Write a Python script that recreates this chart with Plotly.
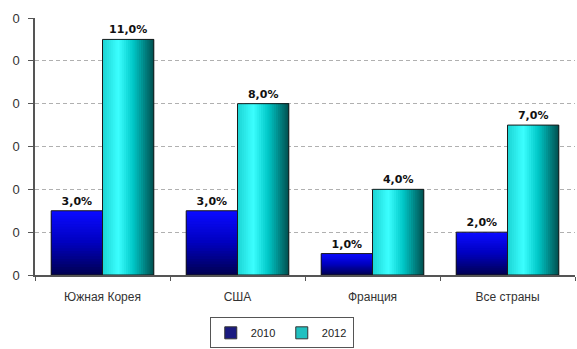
import plotly.graph_objects as go

categories = ["Южная Корея", "США", "Франция", "Все страны"]
values_2010 = [3.0, 3.0, 1.0, 2.0]
values_2012 = [11.0, 8.0, 4.0, 7.0]
series_names = ["2010", "2012"]
y_tickvals = [0, 2, 4, 6, 8, 10, 12]
y_ticktext = ["0"] * len(y_tickvals)


def lerp_color(stops, t):
    for i in range(len(stops) - 1):
        t0, c0 = stops[i]
        t1, c1 = stops[i + 1]
        if t0 <= t <= t1:
            f = (t - t0) / (t1 - t0) if t1 > t0 else 0
            return "rgb(%d,%d,%d)" % tuple(round(c0[j] + (c1[j] - c0[j]) * f) for j in range(3))
    return "rgb(%d,%d,%d)" % stops[-1][1]


BW = 0.38
N = 24
fig = go.Figure()

# 2010: vertical gradient (bright blue top -> navy bottom)
stops_2010 = [(0.0, (10, 10, 255)), (0.5, (0, 0, 190)), (1.0, (0, 0, 85))]
for k in range(N):
    frac = 1 - k / N
    fig.add_trace(go.Bar(
        x=categories, y=[v * frac for v in values_2010],
        width=[BW] * 4, offset=[-BW] * 4,
        marker=dict(color=lerp_color(stops_2010, k / (N - 1)), line=dict(width=0)),
        showlegend=False, hoverinfo="skip"))

# 2012: horizontal gradient (cyan left -> dark teal right)
stops_2012 = [(0.0, (30, 215, 215)), (0.3, (60, 255, 255)), (0.6, (0, 200, 200)), (1.0, (0, 85, 85))]
for k in range(N):
    step = BW / N
    fig.add_trace(go.Bar(
        x=categories, y=values_2012,
        width=[BW - k * step] * 4, offset=[k * step] * 4,
        marker=dict(color=lerp_color(stops_2012, k / (N - 1)), line=dict(width=0)),
        showlegend=False, hoverinfo="skip"))

# outlines + labels
for vals, off in [(values_2010, -BW), (values_2012, 0)]:
    fig.add_trace(go.Bar(
        x=categories, y=vals, width=[BW] * 4, offset=[off] * 4,
        marker=dict(color="rgba(0,0,0,0)", line=dict(color="#1a1a1a", width=1)),
        text=[f"{v:.1f}%".replace(".", ",") for v in vals],
        textposition="outside", cliponaxis=False,
        textfont=dict(family="DejaVu Sans", size=11, color="#111", weight="bold"),
        showlegend=False, hoverinfo="skip"))

# legend entries
for name, col in [(series_names[0], "#1a1a80"), (series_names[1], "#20c0c0")]:
    fig.add_trace(go.Bar(x=[None], y=[None], name=name,
                         marker=dict(color=col, line=dict(color="#333", width=1))))

fig.update_layout(
    width=577, height=349,
    margin=dict(l=35, r=2, t=18, b=74, autoexpand=False),
    barmode="overlay",
    paper_bgcolor="white", plot_bgcolor="white",
    font=dict(family="Liberation Sans", size=12, color="#333"),
    showlegend=True,
    legend=dict(orientation="h", x=0.457, xanchor="center", y=-0.225, yanchor="middle",
                bordercolor="#555", borderwidth=1, font=dict(size=11, color="#222"),
                itemwidth=30, entrywidth=26, tracegroupgap=0),
    xaxis=dict(showline=True, linecolor="#555", linewidth=1.5, ticks="outside",
               tickson="boundaries", ticklen=4, tickcolor="#555", automargin=False,
               ticklabelstandoff=10,
               tickfont=dict(size=12, color="#333"), showgrid=False),
    yaxis=dict(range=[0, 12], tickvals=y_tickvals, ticktext=y_ticktext,
               showline=True, linecolor="#555", linewidth=1.5, ticks="outside",
               ticklen=5, tickcolor="#555", showgrid=True, gridcolor="#b0b0b0",
               griddash="4px,3px", gridwidth=1, zeroline=False, automargin=False,
               ticklabelstandoff=6,
               tickfont=dict(size=13, color="#333")),
)

fig.write_html("out.html", config={"displayModeBar": False},
               post_script="document.body.style.margin='0';")
